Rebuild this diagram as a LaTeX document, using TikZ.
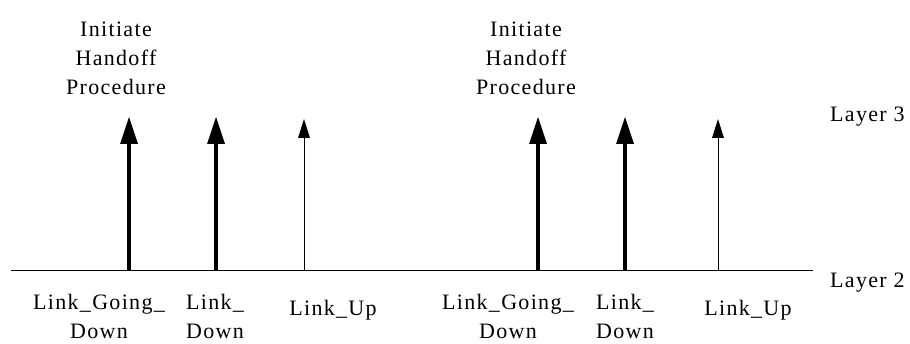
\documentclass[tikz,border=0pt]{standalone}
\usepackage{fontspec}
\setmainfont{Liberation Serif}[LetterSpace=6]
\usetikzlibrary{arrows.meta}

\begin{document}
\begin{tikzpicture}[x=1pt, y=1pt,
  lbl/.style={align=center, inner sep=0pt, font=\fontsize{22}{29}\selectfont},
  strongarrow/.style={line width=4pt, -{Triangle[width=18pt, length=27pt, line width=0pt]}},
  weakarrow/.style={line width=1pt, -{Triangle[width=12pt, length=19pt, line width=0pt]}}]
\useasboundingbox (0,0) rectangle (910,343);

% Layer 2 line
\coordinate (l2west) at (11,73);
\coordinate (l2east) at (813,73);
\draw[line width=1pt] (l2west) -- (l2east);

% Arrow feet on layer 2 and tips below layer 3
\coordinate (gd1) at (129,73);  \coordinate (gd1top) at (129,226);
\coordinate (dn1) at (216,73);  \coordinate (dn1top) at (216,226);
\coordinate (up1) at (304,73);  \coordinate (up1top) at (304,224);
\coordinate (gd2) at (538,73);  \coordinate (gd2top) at (538,226);
\coordinate (dn2) at (625,73);  \coordinate (dn2top) at (625,226);
\coordinate (up2) at (718,73);  \coordinate (up2top) at (718,224);

\draw[strongarrow] (gd1) -- (gd1top);
\draw[strongarrow] (dn1) -- (dn1top);
\draw[weakarrow] (up1) -- (up1top);
\draw[strongarrow] (gd2) -- (gd2top);
\draw[strongarrow] (dn2) -- (dn2top);
\draw[weakarrow] (up2) -- (up2top);

% Texts above
\node[lbl] (init1) at (116,285) {Initiate\\Handoff\\Procedure};
\node[lbl] (init2) at (526,285) {Initiate\\Handoff\\Procedure};

% Layer names
\node[lbl, anchor=west] (layer3) at (830,226) {Layer 3};
\node[lbl, anchor=west] (layer2) at (830,60) {Layer 2};

% Primitive names below
\node[lbl] (lgd1) at (99,27) {Link\_Going\_\\Down};
\node[lbl] (ldn1) at (215,27) {Link\_\\Down};
\node[lbl] (lup1) at (333,33) {Link\_Up};
\node[lbl] (lgd2) at (508,27) {Link\_Going\_\\Down};
\node[lbl] (ldn2) at (625,27) {Link\_\\Down};
\node[lbl] (lup2) at (748,33) {Link\_Up};
\end{tikzpicture}
\end{document}
